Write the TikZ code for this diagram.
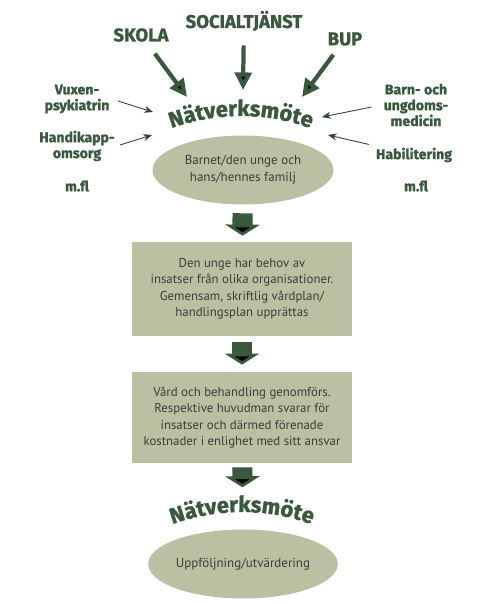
\documentclass[tikz,border=0pt]{standalone}
\usepackage{fontspec}
\setmainfont{PT Sans}
\newfontfamily\lblfont{Fira Sans}[BoldFeatures={FakeBold=1.3}]
\usepackage{tikz}
\usetikzlibrary{shapes.geometric, arrows.meta, positioning, decorations.text}
\definecolor{cDark}{RGB}{58,88,62}
\definecolor{cFill}{RGB}{186,193,163}
\definecolor{cText}{RGB}{58,62,54}
\tikzset{
	orgbig/.style   ={font=\lblfont\bfseries\fontsize{10.5}{12}\selectfont, text=cDark, inner sep=1pt},
	orgsmall/.style ={font=\lblfont\bfseries\fontsize{8}{9}\selectfont, text=cDark, align=center, inner sep=1pt},
	meeting/.style  ={ellipse, fill=cFill, minimum width=3.62cm, minimum height=1.38cm, inner sep=0pt, align=center, text=cText, font=\fontsize{7.4}{9.6}\selectfont},
	infobox/.style  ={rectangle, fill=cFill, minimum width=4.4cm, align=center, text=cText, font=\fontsize{7.3}{9.4}\selectfont},
	bigarrow/.style ={-{Triangle[length=10pt, width=9.5pt]}, line width=2.4pt, draw=cDark},
	thinarrow/.style={-{Stealth[length=5pt, width=4pt]}, line width=0.5pt, draw=cDark!80!black},
	blockarrow/.style={-{Triangle[length=6.3pt, width=19.5pt]}, line width=11.5pt, draw=cDark},
	arctext/.style  ={decorate, decoration={text along path, text align=center, text color=cDark,
		text={|\lblfont\bfseries\fontsize{12.5}{12.5}\selectfont|Nätverksmöte}}}
}

\begin{document}
\begin{tikzpicture}[x=0.02cm, y=-0.02cm]
	\useasboundingbox (0,0) rectangle (485,604);
	% organisations
	\node[orgbig] (social) at (244,21) {SOCIALTJÄNST};
	\node[orgbig] (skola) at (141,35) {SKOLA};
	\node[orgbig] (bup) at (345,39) {BUP};
	\node[orgsmall] (vuxen) at (77,99) {Vuxen-\\psykiatrin};
	\node[orgsmall] (handi) at (77,146) {Handikapp-\\omsorg};
	\node[orgsmall] (mflL) at (77,186) {m.fl};
	\node[orgsmall] (barn) at (416,105) {Barn- och\\ungdoms-\\medicin};
	\node[orgsmall] (habil) at (414,155) {Habilitering};
	\node[orgsmall] (mflR) at (416,186) {m.fl};
	% meetings and steps
	\node[meeting] (barnet) at (243,170) {Barnet/den unge och\\hans/hennes familj};
	\node[infobox, minimum height=1.88cm] (plan) at (242,289) {Den unge har behov av\\insatser från olika organisationer.\\Gemensam, skriftlig vårdplan/\\handlingsplan upprättas};
	\node[infobox, minimum height=1.82cm] (vard) at (242,417.5) {Vård och behandling genomförs.\\Respektive huvudman svarar för\\insatser och därmed förenade\\kostnader i enlighet med sitt ansvar};
	\node[meeting] (uppf) at (243,564) {Uppföljning/utvärdering};
	\coordinate (arc1) at (241,321);
	\coordinate (arc2) at (242,717);
	\path[arctext] ([shift={(-118:205)}]arc1) arc[start angle=-118, end angle=-62, radius=205];
	\path[arctext] ([shift={(-118:205)}]arc2) arc[start angle=-118, end angle=-62, radius=205];
	% arrows in
	\coordinate (inSkola) at (187,97);
	\coordinate (inSocial) at (243,90);
	\coordinate (inBup) at (302,97);
	\coordinate (inVuxen) at (153,112);
	\coordinate (inHandi) at (152,135);
	\coordinate (inBarn) at (322,117);
	\coordinate (inHabil) at (328,135);
	\draw[bigarrow, shorten <=7pt] (skola) -- (inSkola);
	\draw[bigarrow, shorten <=7pt] (social) -- (inSocial);
	\draw[bigarrow, shorten <=5pt] (bup) -- (inBup);
	\draw[thinarrow, shorten <=4pt] (vuxen.east) -- (inVuxen);
	\draw[thinarrow, shorten <=2pt] (handi.east) -- (inHandi);
	\draw[thinarrow, shorten <=6pt] (barn.west) -- (inBarn);
	\draw[thinarrow, shorten <=3pt] (habil.north west) -- (inHabil);
	% flow
	\draw[blockarrow, shorten <=4.8pt, shorten >=3.4pt] (barnet) -- (plan);
	\draw[blockarrow, shorten <=3.4pt, shorten >=4pt] (plan) -- (vard);
	\draw[blockarrow, shorten <=2.3pt, shorten >=23.8pt] (vard) -- (uppf);
\end{tikzpicture}
\end{document}
